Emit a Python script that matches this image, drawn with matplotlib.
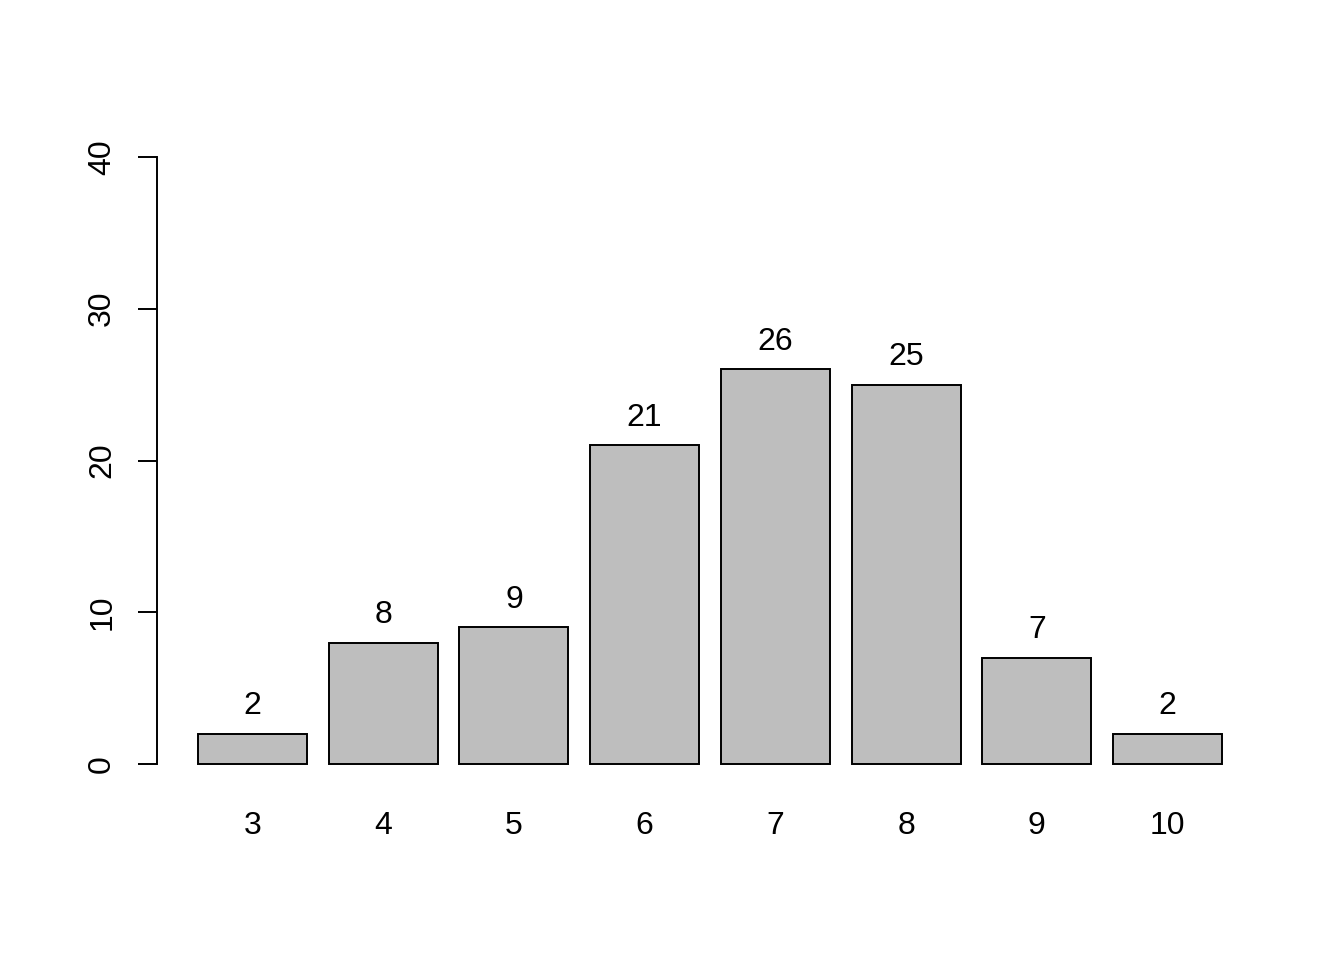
import matplotlib
matplotlib.use("Agg")
import matplotlib.pyplot as plt
import numpy as np

plt.rcParams["font.family"] = ["Liberation Sans", "DejaVu Sans"]

categories = ["3", "4", "5", "6", "7", "8", "9", "10"]
counts = [2, 8, 9, 21, 26, 25, 7, 2]
y_ticks = [0, 10, 20, 30, 40]

W, H = 1344, 960
fig = plt.figure(figsize=(W / 100, H / 100), dpi=100)
# plot region in pixels: x 157..1263, y 132.7..788.3
ax = fig.add_axes([157 / W, 1 - 788.3 / H, (1263 - 157) / W, (788.3 - 132.7) / H])

# R barplot geometry: width 1, space 0.2
pos = 0.2 + 1.2 * np.arange(len(counts)) + 0.5
ax.bar(pos, counts, width=1.0, color="#BEBEBE", edgecolor="black", linewidth=1.4)
for x, v in zip(pos, counts):
    ax.annotate(str(v), (x, v), xytext=(0, 20), textcoords="offset points",
                ha="center", va="center", fontsize=23)

ax.set_xlim(-0.176, 9.976)
ax.set_ylim(-1.6, 41.6)

for side in ["top", "right", "bottom"]:
    ax.spines[side].set_visible(False)
ax.spines["left"].set_bounds(0, 40)
ax.spines["left"].set_linewidth(1.4)

ax.set_yticks(y_ticks)
ax.set_yticklabels([str(t) for t in y_ticks], rotation=90, va="center", fontsize=23)
ax.tick_params(axis="y", length=13.7, width=1.4, pad=15)

ax.set_xticks(pos)
ax.set_xticklabels(categories, fontsize=23)
ax.tick_params(axis="x", length=0, pad=16)

fig.savefig("out.png", dpi=100)
